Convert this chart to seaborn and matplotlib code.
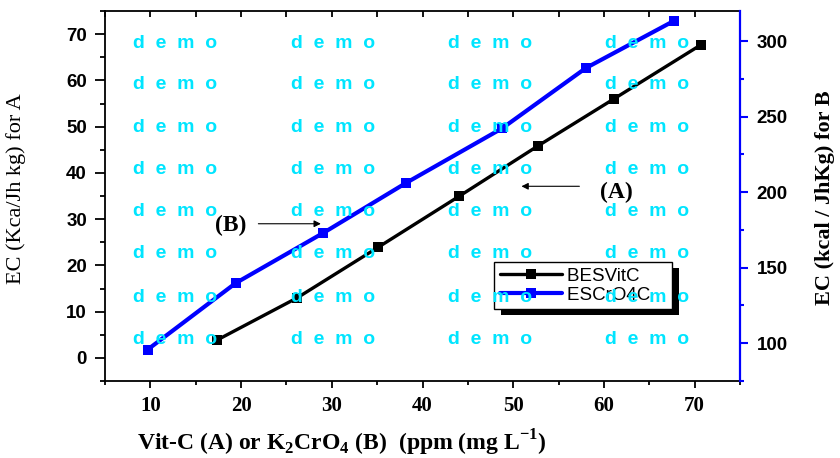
import matplotlib
matplotlib.use("Agg")
import matplotlib.pyplot as plt
import seaborn as sns
import pandas as pd
from matplotlib.ticker import MultipleLocator
from matplotlib.patches import Rectangle
from matplotlib.transforms import IdentityTransform

# ---- data ----
conc_A = [17.4, 26.2, 35.1, 44.0, 52.7, 61.1, 70.7]
ec_A = [3.9, 13.0, 23.9, 34.9, 45.8, 56.0, 67.7]
conc_B = [9.7, 19.4, 29.05, 38.2, 48.8, 58.0, 67.7]
ec_B = [95.8, 139.8, 173.0, 206.2, 242.4, 282.2, 313.4]
name_A = "BESVitC"
name_B = "ESCrO4C"
xlabel = r"Vit-C (A) or K$_\mathbf{2}$CrO$_\mathbf{4}$ (B)  (ppm (mg L$^{\mathbf{-1}}$)"
ylabel_left = "EC (Kca/Jh kg) for A"
ylabel_right = "EC (kcal / JhKg) for B"

sns.set_theme(style="white")
plt.rcParams["mathtext.fontset"] = "custom"
plt.rcParams["mathtext.bf"] = "Liberation Serif:bold"
plt.rcParams["mathtext.rm"] = "Liberation Serif:bold"
plt.rcParams["font.family"] = ["Liberation Sans", "DejaVu Sans"]
for k in ["text.color", "axes.labelcolor", "xtick.color", "ytick.color"]:
    plt.rcParams[k] = "black"

dfA = pd.DataFrame({"x": conc_A, "y": ec_A})
dfB = pd.DataFrame({"x": conc_B, "y": ec_B})

fig = plt.figure(figsize=(8.4, 4.58), dpi=100)
ax = fig.add_axes([105 / 840, 1 - 381 / 458, 635 / 840, 370 / 458])
ax2 = ax.twinx()

sns.lineplot(data=dfA, x="x", y="y", ax=ax, sort=False, color="black", lw=2.4,
             marker="s", markersize=6.5, markeredgewidth=0, label=name_A, legend=False)
sns.lineplot(data=dfB, x="x", y="y", ax=ax2, sort=False, color="#0000ff", lw=3.0,
             marker="s", markersize=7, markeredgewidth=0, label=name_B, legend=False)

ax.set_xlim(5, 75)
ax.set_ylim(-5, 75)
ax2.set_ylim(75, 320)

ax.xaxis.set_major_locator(MultipleLocator(10))
ax.xaxis.set_minor_locator(MultipleLocator(5))
ax.yaxis.set_major_locator(MultipleLocator(10))
ax.yaxis.set_minor_locator(MultipleLocator(5))
ax2.yaxis.set_major_locator(MultipleLocator(50))
ax2.yaxis.set_minor_locator(MultipleLocator(25))

for sp in ["left", "bottom", "top"]:
    ax.spines[sp].set_color("black")
    ax.spines[sp].set_linewidth(1.3)
ax.spines["right"].set_visible(False)
for sp in ["left", "bottom", "top"]:
    ax2.spines[sp].set_visible(False)
ax2.spines["right"].set_color("#0000ff")
ax2.spines["right"].set_linewidth(1.6)

ax.tick_params(axis="x", which="major", direction="out", length=5, width=1.3,
               color="black", bottom=True, top=True, pad=6)
ax.tick_params(axis="x", which="minor", direction="out", length=3, width=1.3,
               color="black", bottom=True, top=True)
ax.tick_params(axis="y", which="major", direction="out", length=7, width=1.3,
               color="black", left=True, pad=6)
ax.tick_params(axis="y", which="minor", direction="out", length=3.5, width=1.3,
               color="black", left=True)
ax2.tick_params(axis="y", which="major", direction="out", length=6, width=1.5,
                color="#0000ff", right=True, pad=6)
ax2.tick_params(axis="y", which="minor", direction="out", length=3, width=1.5,
                color="#0000ff", right=True)
# top ticks point inward
for t in ax.xaxis.get_major_ticks() + ax.xaxis.get_minor_ticks():
    t.tick2line.set_marker(matplotlib.lines.TICKDOWN)
    t.tick2line.set_markersize(4)

for lab in ax.get_xticklabels():
    lab.set_fontfamily("Liberation Serif")
    lab.set_fontweight("bold")
    lab.set_fontsize(15)
for lab in ax.get_yticklabels() + ax2.get_yticklabels():
    lab.set_fontfamily("Liberation Sans")
    lab.set_fontweight("bold")
    lab.set_fontsize(13.5)
    lab.set_color("black")

ax.set_xlabel(xlabel, fontfamily="Liberation Serif", fontweight="bold", fontsize=17)
ax.set_ylabel(ylabel_left, fontfamily="Liberation Serif", fontsize=16)
ax2.set_ylabel(ylabel_right, fontfamily="Liberation Serif", fontweight="bold", fontsize=16)
ax.xaxis.set_label_coords(0.373, -0.127)
ax.yaxis.set_label_coords(-0.124, 0.52)
ax2.yaxis.set_label_coords(1.118, 0.495)

# annotations
ax.annotate("", xy=(50.6, 37.1), xytext=(57.6, 37.1),
            arrowprops=dict(arrowstyle="-|>", color="black", lw=0.8, mutation_scale=10))
ax.text(61.4, 35.8, "(A)", fontfamily="Liberation Serif", fontweight="bold",
        fontsize=17, ha="center", va="center")
ax.annotate("", xy=(29.1, 29.0), xytext=(21.6, 29.0),
            arrowprops=dict(arrowstyle="-|>", color="black", lw=0.8, mutation_scale=10))
ax.text(18.9, 28.6, "(B)", fontfamily="Liberation Serif", fontweight="bold",
        fontsize=17, ha="center", va="center")

# legend
handles = ax.get_lines()[:1] + ax2.get_lines()[:1]
leg = ax2.legend(handles, [name_A + "   ", name_B + "   "], loc="upper left",
                 bbox_to_anchor=(0.613, 0.322), borderaxespad=0, frameon=True, fancybox=False,
                 edgecolor="black", framealpha=1, handlelength=3.3,
                 borderpad=0.3, labelspacing=0.1, handletextpad=0.3,
                 prop={"family": "Liberation Sans", "size": 13.5})
leg.get_frame().set_linewidth(1.0)
leg.set_zorder(6)

fig.canvas.draw()
bb = leg.get_window_extent()
shadow = Rectangle((bb.x0 + 7, bb.y0 - 6), bb.width, bb.height, transform=IdentityTransform(),
                   facecolor="black", edgecolor="none", zorder=5.5, clip_on=False)
ax2.add_artist(shadow)

# watermark texts
cols = [133, 291, 448, 605]
rows = [43, 85, 128, 170, 212, 254, 297, 339]
for cx in cols:
    for ry in rows:
        fig.text(cx / 840, 1 - ry / 458, "d  e  m  o", color="#00e5ff", fontsize=14,
                 fontweight="bold", fontfamily="Liberation Sans", ha="left", va="center",
                 zorder=10)

fig.savefig("out.png", dpi=100)
